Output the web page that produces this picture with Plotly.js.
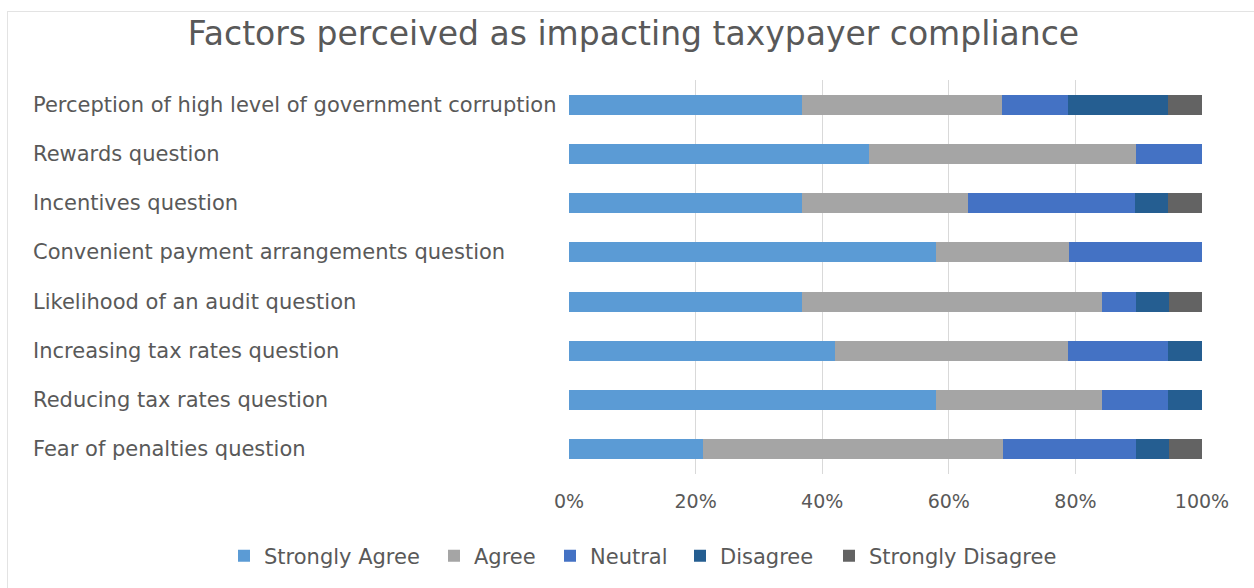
<!DOCTYPE html>
<html>
<head>
<meta charset="utf-8">
<script src="https://cdn.plot.ly/plotly-3.0.1.min.js"></script>
<style>
html,body{margin:0;padding:0;background:#fff;}
#wrap{position:relative;width:1254px;height:588px;}
#frame{position:absolute;left:7px;top:11px;right:-2px;bottom:-2px;border-left:1px solid #e3e3e3;border-top:1px solid #e3e3e3;pointer-events:none;}
#chart{width:1254px;height:588px;}
</style>
</head>
<body>
<div id="wrap"><div id="chart"></div><div id="frame"></div></div>
<script>
const categories = [
  "Perception of high level of government corruption",
  "Rewards question",
  "Incentives question",
  "Convenient payment arrangements question",
  "Likelihood of an audit question",
  "Increasing tax rates question",
  "Reducing tax rates question",
  "Fear of penalties question"
];
const seriesNames = ["Strongly Agree", "Agree", "Neutral", "Disagree", "Strongly Disagree"];
// shares of responses (fraction of 1)
const stronglyAgree    = [0.368, 0.474, 0.368, 0.579, 0.368, 0.421, 0.579, 0.211];
const agree            = [0.316, 0.421, 0.263, 0.211, 0.474, 0.368, 0.263, 0.474];
const neutral          = [0.105, 0.105, 0.263, 0.210, 0.053, 0.158, 0.105, 0.210];
const disagree         = [0.158, 0.000, 0.053, 0.000, 0.053, 0.053, 0.053, 0.053];
const stronglyDisagree = [0.053, 0.000, 0.053, 0.000, 0.052, 0.000, 0.000, 0.052];
const seriesColors = ["#5B9BD5", "#A5A5A5", "#4472C4", "#255E91", "#636363"];

const allSeries = [stronglyAgree, agree, neutral, disagree, stronglyDisagree];
const fontFam = "DejaVu Sans, Liberation Sans, Arial, sans-serif";
const txt = "#595959";

// legend entry text start positions (px) for layout
const legendTextPx = [262, 472, 588, 718, 867];
const plotL = 569, plotW = 633, plotT = 80, plotH = 394;

const legendKeys = ["legend", "legend2", "legend3", "legend4", "legend5"];

const traces = allSeries.map((vals, i) => ({
  type: "bar",
  orientation: "h",
  name: seriesNames[i],
  x: vals,
  y: categories,
  legend: legendKeys[i],
  marker: {color: seriesColors[i], line: {width: 0}}
}));

const annotations = categories.map(c => ({
  xref: "paper", yref: "y",
  x: (31 - plotL) / plotW, y: c,
  xanchor: "left", yanchor: "middle",
  text: c, showarrow: false,
  font: {family: fontFam, size: 21, color: txt}
}));

const layout = {
  width: 1254, height: 588,
  paper_bgcolor: "rgba(0,0,0,0)", plot_bgcolor: "#fff",
  margin: {l: plotL, r: 1254 - plotL - plotW, t: plotT, b: 588 - plotT - plotH, autoexpand: false},
  barmode: "stack",
  bargap: 0.59,
  showlegend: true,
  title: {text: "Factors perceived as impacting taxypayer compliance",
          x: 633.5 / 1254, xanchor: "center", y: 1 - 33/588, yanchor: "middle",
          font: {family: fontFam, size: 33, color: txt}},
  xaxis: {range: [0, 1], tickvals: [0, 0.2, 0.4, 0.6, 0.8, 1], tickformat: ".0%",
          showgrid: true, gridcolor: "#d9d9d9", gridwidth: 1, zeroline: false,
          showline: false, ticks: "", ticklabelstandoff: 14, automargin: false,
          tickfont: {family: fontFam, size: 19, color: txt}, fixedrange: true},
  yaxis: {type: "category", autorange: "reversed", showticklabels: false, automargin: false,
          showgrid: false, zeroline: false, showline: false, fixedrange: true},
  annotations: annotations
};
legendKeys.forEach((k, i) => {
  layout[k] = {orientation: "h", x: (legendTextPx[i] - 38 - plotL) / plotW, xanchor: "left",
               y: -(556 - (plotT + plotH)) / plotH, yanchor: "middle",
               bgcolor: "rgba(0,0,0,0)",
               font: {family: fontFam, size: 21, color: txt}};
});
Plotly.newPlot("chart", traces, layout, {displayModeBar: false, staticPlot: true});
</script>
</body>
</html>
